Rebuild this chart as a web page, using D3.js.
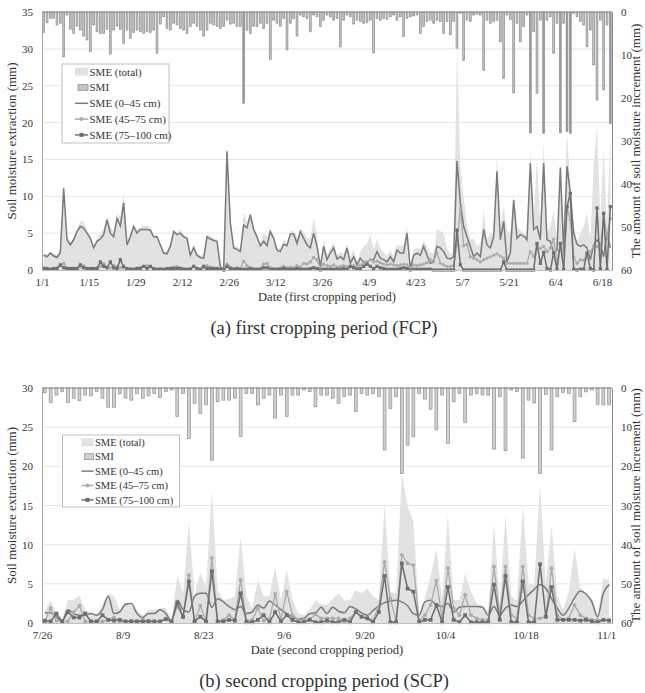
<!DOCTYPE html>
<html>
<head>
<meta charset="utf-8">
<script src="https://cdn.jsdelivr.net/npm/d3@7"></script>
<style>
  body { margin: 0; background: #fff; }
  text { font-family: "Liberation Serif", "DejaVu Serif", serif; fill: #333; }
</style>
</head>
<body>
<svg id="chart" width="645" height="693"></svg>
<script>
// ---- data, one value per day ----
// first cropping period (FCP), from 1/1
var fcpTotal = [2.3,2.1,2.5,2.2,2.1,3.0,11.5,4.6,3.8,4.4,
  5.6,6.6,6.6,5.4,4.6,3.3,4.3,5.0,5.6,7.3,
  6.0,5.1,7.6,7.2,10.5,3.8,4.8,6.1,5.5,5.8,
  6.0,6.0,5.9,4.8,4.7,3.7,2.5,2.5,3.7,5.5,
  5.1,5.5,4.8,4.5,2.3,3.5,2.4,1.9,2.2,4.8,
  4.6,4.3,4.2,0.7,0.0,16.4,6.8,3.3,3.2,2.8,
  7.8,6.4,7.8,5.8,4.7,3.6,5.0,4.6,5.6,4.6,
  3.0,2.9,4.0,3.7,5.3,5.3,4.4,5.6,5.2,4.3,
  4.3,7.0,4.8,0.7,4.1,2.1,2.9,3.8,2.0,2.4,
  2.2,3.6,1.8,2.7,1.1,2.5,3.2,3.6,4.8,2.7,
  4.2,2.9,2.4,1.9,2.7,1.9,3.4,3.2,3.4,5.9,
  0.4,2.8,3.0,2.8,4.1,3.1,2.4,2.2,5.5,5.3,
  5.0,3.0,2.1,2.4,30.2,14.0,10.0,5.9,4.1,4.3,
  3.2,3.6,8.1,4.1,5.0,5.0,15.4,5.9,8.6,5.4,
  5.0,10.4,5.9,5.4,5.0,4.6,16.4,6.6,15.5,5.9,
  17.3,5.0,5.9,8.1,4.1,14.5,5.9,18.6,11.5,6.0,
  3.9,5.0,5.9,7.7,4.1,14.0,19.5,7.0,16.4,5.9,
  18.2];
var fcpSMI = [4.8,2.5,1.5,1.5,3.0,2.6,10.4,0.7,4.0,5.0,
  3.3,4.2,5.6,6.5,9.2,3.0,4.6,5.0,5.0,4.0,
  9.8,4.2,3.3,4.0,7.3,4.2,6.1,4.8,4.2,4.6,
  5.0,4.6,4.8,4.2,9.6,2.8,1.1,3.8,4.2,2.6,
  3.0,3.8,4.2,5.0,3.4,2.6,3.3,4.2,5.6,4.2,
  2.6,3.0,3.4,3.8,3.3,1.9,2.8,2.6,3.4,3.4,
  21.2,4.2,5.0,3.3,3.4,2.6,3.8,2.6,11.0,1.9,
  2.6,3.3,1.5,8.8,2.6,1.5,5.6,0.7,1.1,1.5,
  4.6,0.7,1.1,3.4,1.9,0.7,1.1,1.9,1.5,8.1,
  1.9,0.7,1.1,2.8,1.9,2.2,2.6,2.5,1.9,9.5,
  1.5,1.9,1.5,1.7,1.1,0.7,1.9,1.1,5.7,1.5,
  1.1,0.9,0.7,5.0,3.4,2.2,1.9,2.6,1.9,2.2,
  5.0,2.2,5.3,2.2,8.4,0.3,11.2,1.9,2.2,0.7,
  0.5,0.7,13.6,1.9,2.6,2.2,1.9,6.9,15.4,0.7,
  1.7,18.8,2.6,6.9,3.4,0.7,28.1,4.6,18.9,1.9,
  28.2,1.9,1.1,9.6,2.6,28.1,2.6,27.8,28.2,0.3,
  1.1,2.2,3.0,8.1,4.2,12.3,20.5,1.9,18.1,3.0,
  25.9];
var fcpTop = [2.0,1.8,2.3,1.9,1.7,2.3,11.1,4.1,3.4,4.1,
  5.2,5.9,5.7,5.0,4.3,3.0,3.9,4.2,4.8,6.8,
  5.0,4.5,7.0,6.0,9.1,3.4,4.5,5.9,5.0,5.5,
  5.5,5.5,5.4,4.5,4.5,3.4,2.3,2.2,3.2,5.2,
  4.8,5.0,4.5,4.3,2.0,3.0,2.0,1.7,1.6,4.5,
  4.2,4.0,3.9,0.5,0.0,16.1,6.4,3.0,2.8,2.5,
  6.1,5.7,7.5,5.5,4.5,3.3,3.9,3.3,5.2,4.3,
  2.7,2.5,3.5,3.3,4.9,4.9,3.6,5.2,4.3,3.4,
  3.0,5.0,3.2,0.5,3.2,1.4,2.3,3.0,1.5,1.8,
  1.4,3.0,0.9,1.8,0.7,1.6,1.1,1.1,1.4,1.4,
  2.5,1.6,1.4,1.1,1.8,1.1,2.7,2.3,2.3,5.0,
  0.2,2.0,2.3,2.0,3.2,2.0,0.9,1.1,3.2,3.0,
  2.5,1.6,1.5,1.8,14.8,9.1,5.9,4.5,3.2,1.8,
  2.3,1.8,5.5,3.4,3.0,4.5,13.4,4.1,6.6,1.1,
  2.3,9.5,4.3,4.8,4.6,4.1,14.5,5.5,5.9,4.1,
  14.5,4.1,3.9,2.3,2.7,13.9,2.5,14.1,10.5,5.0,
  3.5,3.2,3.4,3.0,1.4,3.4,4.1,3.4,1.8,5.0,
  3.0];
var fcpMid = [0.3,0.2,0.1,0.2,0.3,0.6,0.9,0.3,0.2,0.1,
  0.2,0.4,0.6,0.2,0.1,0.2,0.3,0.5,0.9,0.4,
  0.3,0.6,0.5,0.3,0.6,0.1,0.2,0.1,0.3,0.4,
  0.5,0.6,0.4,0.2,0.1,0.2,0.1,0.2,0.3,0.4,
  0.5,0.3,0.2,0.1,0.2,0.5,0.2,0.1,0.3,0.6,
  0.4,0.3,0.2,0.1,0.0,0.8,0.4,0.2,0.3,0.2,
  1.2,0.6,0.3,0.2,0.1,0.2,0.8,0.9,0.3,0.2,
  0.2,0.3,0.5,0.3,0.4,0.3,0.6,0.4,0.9,0.8,
  1.1,1.7,1.4,0.2,0.8,0.6,0.5,0.7,0.4,0.5,
  0.6,0.5,0.4,0.6,0.3,0.7,0.9,1.1,1.4,1.1,
  1.2,1.0,0.8,0.7,0.8,0.7,0.6,0.7,0.8,0.7,
  0.2,0.7,0.6,0.7,0.8,1.0,1.4,1.2,2.3,0.9,
  0.7,0.5,0.5,0.6,3.5,8.4,3.3,3.5,1.8,1.6,
  1.4,1.1,1.4,1.6,1.8,2.0,2.2,1.9,1.6,0.9,
  0.9,0.9,0.9,0.9,0.9,0.9,2.5,1.8,3.4,2.9,
  3.2,2.5,3.0,4.2,0.9,3.6,2.0,8.4,6.8,1.8,
  0.9,1.4,1.3,2.3,2.5,3.2,3.2,2.8,7.5,4.5,
  7.0];
var fcpDeep = [0.2,0.2,0.1,0.2,0.2,0.7,0.3,0.2,0.2,0.2,
  0.2,0.7,0.3,0.2,0.2,0.2,0.2,1.1,0.5,0.3,
  1.1,0.3,0.2,1.4,0.4,0.2,0.1,0.1,0.2,0.2,
  0.5,0.2,0.5,0.2,0.1,0.1,0.1,0.2,0.2,0.2,
  0.2,0.2,0.1,0.1,0.1,0.5,0.2,0.1,0.5,0.2,
  0.2,0.2,0.2,0.1,0.0,0.5,0.2,0.1,0.2,0.1,
  0.1,0.1,0.2,0.1,0.1,0.1,0.3,0.3,0.1,0.1,
  0.1,0.1,0.2,0.1,0.1,0.1,0.2,0.1,0.1,0.1,
  0.2,0.3,0.2,0.0,0.1,0.1,0.1,0.1,0.1,0.1,
  0.2,0.1,0.5,0.3,0.1,0.2,0.5,0.8,0.5,0.2,
  0.5,0.3,0.2,0.1,0.1,0.1,0.1,0.2,0.3,0.2,
  0.0,0.1,0.1,0.1,0.1,0.1,0.1,0.0,0.0,0.0,
  0.0,0.0,0.0,0.0,5.4,0.7,0.0,0.0,0.0,0.0,
  0.0,0.0,0.0,0.0,0.0,0.0,0.0,0.0,1.1,0.0,
  0.0,0.0,0.0,0.0,0.0,0.0,0.0,0.0,3.6,0.9,
  2.4,0.2,0.0,2.3,0.1,3.6,0.1,8.6,10.4,0.1,
  0.0,0.1,0.1,2.3,0.2,0.0,8.4,0.2,7.7,0.1,
  8.6];
var fcpTicks = ["1/1","1/15","1/29","2/12","2/26","3/12","3/26","4/9","4/23","5/7","5/21","6/4","6/18"];

// second cropping period (SCP), from 7/26
var scpTotal = [1.5,2.9,1.2,0.3,2.9,3.0,3.5,1.7,1.2,1.0,
  2.4,3.8,3.4,1.7,2.7,2.1,1.7,1.0,1.7,1.7,
  1.9,1.9,0.3,6.1,3.8,12.9,3.6,6.4,4.6,16.9,
  4.2,2.9,3.1,3.4,11.0,3.4,1.9,5.5,3.4,3.4,
  7.2,2.9,6.8,2.9,1.2,1.0,1.7,2.9,2.4,2.3,
  3.1,3.8,2.9,2.9,4.2,3.8,4.4,3.4,3.0,15.1,
  4.0,3.8,19.0,14.8,13.1,1.2,3.2,6.0,9.5,3.0,
  13.8,3.0,2.9,6.3,4.0,2.5,2.2,1.5,12.7,2.5,
  13.8,3.4,2.8,15.1,5.0,5.0,17.7,5.0,12.5,3.4,
  1.7,4.0,9.5,4.5,3.6,3.2,1.0,5.7,5.5];
var scpSMI = [1.2,3.7,1.8,0.9,3.7,2.6,3.2,1.8,2.0,0.9,
  2.6,4.9,4.9,1.5,2.6,3.1,1.4,2.6,2.0,1.4,
  2.4,0.9,0.5,7.3,1.4,12.9,3.9,6.5,4.3,18.4,
  3.5,3.1,3.1,2.6,12.4,1.4,1.4,4.3,2.6,1.8,
  7.7,1.8,7.3,1.8,1.8,0.5,0.9,4.8,1.8,1.8,
  2.6,3.9,2.2,1.8,6.0,1.4,1.8,1.4,2.2,15.8,
  5.2,2.2,21.8,14.6,12.4,1.4,2.8,5.4,10.7,1.8,
  14.2,3.5,1.4,8.8,1.8,1.4,1.8,1.8,15.6,2.2,
  16.0,0.5,0.9,17.9,3.1,3.8,21.8,1.6,15.8,2.2,
  1.1,1.4,8.6,2.2,1.0,0.5,4.2,4.3,4.3];
var scpTop = [1.3,1.3,0.8,0.2,1.7,1.2,1.0,1.0,1.2,1.0,
  1.7,3.4,1.2,1.4,2.4,2.5,1.2,0.7,1.2,1.2,
  1.7,1.2,0.2,2.9,1.7,1.4,3.4,3.8,3.8,2.0,
  3.1,2.7,2.1,1.7,2.1,1.2,1.4,2.3,1.9,2.8,
  2.3,1.7,1.2,0.8,0.5,0.6,1.2,1.3,2.0,1.2,
  2.0,1.5,1.3,2.1,1.8,1.3,1.0,1.6,2.2,2.6,
  2.8,2.9,2.7,2.2,1.2,1.0,2.7,2.9,2.3,2.1,
  2.5,1.4,2.0,2.1,2.1,2.1,2.0,1.0,2.1,1.0,
  1.9,2.3,2.1,2.8,3.6,4.3,4.9,4.4,3.1,1.9,
  1.0,1.9,3.2,4.1,3.7,2.7,0.8,3.8,4.9];
var scpMid = [0.2,1.9,0.3,0.2,0.2,1.4,2.2,0.2,0.2,0.2,
  0.2,0.4,0.7,0.2,0.2,0.3,0.2,0.4,0.3,0.2,
  0.2,0.5,0.2,2.1,0.8,6.1,0.2,2.2,0.2,8.3,
  0.2,0.4,1.0,0.4,5.5,0.3,0.4,1.9,0.3,0.5,
  3.7,0.4,4.0,1.0,0.4,0.4,0.5,1.1,0.6,0.6,
  0.6,0.6,0.2,0.6,1.4,0.8,0.6,0.4,2.1,7.8,
  3.1,0.3,8.7,7.6,7.4,0.3,1.0,2.3,5.4,0.6,
  7.0,1.9,1.0,3.6,1.0,0.6,0.4,0.4,7.2,1.0,
  7.2,1.0,0.6,7.2,1.0,0.6,0.6,0.8,7.0,1.0,
  0.4,0.6,2.3,1.0,0.6,0.4,0.4,0.4,0.4];
var scpDeep = [0.3,0.2,1.2,0.2,1.4,0.7,0.7,1.2,0.2,0.2,
  1.0,0.4,0.3,0.4,0.2,0.2,0.2,0.2,0.2,0.2,
  0.2,0.5,0.2,2.6,0.8,5.3,0.2,0.8,0.2,6.6,
  0.2,0.2,0.4,0.3,3.8,0.1,0.1,0.4,1.0,0.1,
  1.4,0.2,1.0,0.4,0.1,0.1,0.4,0.1,0.1,0.3,
  0.1,0.1,0.4,0.1,1.4,0.8,0.6,0.1,1.4,6.0,
  0.1,0.1,7.6,4.4,4.0,0.1,0.4,0.4,2.3,0.1,
  4.6,0.4,0.1,1.0,0.1,0.1,0.1,0.1,4.9,0.4,
  6.0,0.1,0.1,5.3,0.1,0.1,7.5,0.8,4.6,0.4,
  0.4,0.4,0.4,0.3,0.4,0.2,0.1,0.4,0.3];
var scpTicks = ["7/26","8/9","8/23","9/6","9/20","10/4","10/18","11/1"];

var legendNames = ["SME (total)", "SMI", "SME (0\u201345 cm)", "SME (45\u201375 cm)", "SME (75\u2013100 cm)"];

var left = 42, right = 612;
var svg = d3.select("#chart");
var parseDate = d3.timeParse("%Y/%m/%d");

// draws one panel (area + bars + three lines + both axes + legend)
function drawPanel(p) {
  var g = svg.append("g");
  var start = parseDate(p.year + "/" + p.ticks[0]);
  var x = d3.scaleTime()
    .domain([start, d3.timeDay.offset(start, p.total.length)])
    .range([left, right]);
  var band = x(d3.timeDay.offset(start, 1)) - x(start);
  function day(i) { return x(d3.timeHour.offset(d3.timeDay.offset(start, i), 12)); }
  var y = d3.scaleLinear().domain([0, p.yMax]).range([p.bottom, p.top]);
  var y2 = d3.scaleLinear().domain([0, 60]).range([p.top, p.bottom]);

  // gridlines
  g.append("g").selectAll("line")
    .data(y.ticks(p.yMax / 5).slice(1))
    .enter().append("line")
    .attr("x1", left).attr("x2", right)
    .attr("y1", function(d) { return y(d); }).attr("y2", function(d) { return y(d); })
    .style("stroke", "#e6e6e6");

  // SME total as area
  g.append("path").datum(p.total)
    .attr("d", d3.area()
      .x(function(d, i) { return day(i); })
      .y0(p.bottom)
      .y1(function(d) { return y(d); }))
    .style("fill", "#e2e2e2");

  // SMI bars hanging from the top (secondary axis, reversed)
  var bw = band * p.barFrac;
  g.append("g").selectAll("rect")
    .data(p.smi)
    .enter().append("rect")
    .attr("x", function(d, i) { return day(i) - bw / 2; })
    .attr("y", p.top)
    .attr("width", bw)
    .attr("height", function(d) { return y2(d) - p.top; })
    .style("fill", function(d) { return d > p.darkAbove ? "#9e9e9e" : p.barFill; })
    .style("stroke", "#8e8e8e")
    .style("stroke-width", 0.7);

  // SME by layer
  var line = d3.line().x(function(d, i) { return day(i); }).y(function(d) { return y(d); });
  g.append("path").datum(p.s1)
    .attr("d", line.curve(p.curve))
    .style("fill", "none").style("stroke", "#7a7a7a").style("stroke-width", 1.5);
  line.curve(d3.curveLinear);
  g.append("path").datum(p.s2)
    .attr("d", line)
    .style("fill", "none").style("stroke", "#ababab").style("stroke-width", 1.3);
  g.append("g").selectAll("circle")
    .data(p.s2).enter().append("circle")
    .attr("cx", function(d, i) { return day(i); })
    .attr("cy", function(d) { return y(d); })
    .attr("r", p.mk / 2)
    .style("fill", "#ababab");
  g.append("path").datum(p.s3)
    .attr("d", line)
    .style("fill", "none").style("stroke", "#6e6e6e").style("stroke-width", 1.5);
  g.append("g").selectAll("rect")
    .data(p.s3).enter().append("rect")
    .attr("x", function(d, i) { return day(i) - p.mk / 2; })
    .attr("y", function(d) { return y(d) - p.mk / 2; })
    .attr("width", p.mk).attr("height", p.mk)
    .style("fill", "#6e6e6e");

  // axes
  var ax = g.append("g").attr("transform", "translate(" + left + ",0)")
    .call(d3.axisLeft(y).ticks(p.yMax / 5).tickSize(0).tickPadding(9));
  ax.select(".domain").style("stroke", "#a6a6a6");
  ax.style("font-size", "11px");

  var ar = g.append("g").attr("transform", "translate(" + right + ",0)")
    .call(d3.axisRight(y2).ticks(6).tickSize(0).tickPadding(9));
  ar.select(".domain").style("stroke", "#8c8c8c");
  ar.style("font-size", "11px");

  var tickDates = p.ticks.map(function(t) { return parseDate(p.year + "/" + t); });
  var axb = g.append("g").attr("transform", "translate(0," + p.bottom + ")")
    .call(d3.axisBottom(x).tickValues(tickDates)
      .tickFormat(function(d, i) { return p.ticks[i]; })
      .tickSize(0).tickPadding(8));
  axb.select(".domain").style("stroke", "#bfbfbf");
  axb.style("font-size", "11px");

  g.append("line")
    .attr("x1", left).attr("x2", right).attr("y1", p.top).attr("y2", p.top)
    .style("stroke", "#8c8c8c");

  // titles
  var midY = (p.top + p.bottom) / 2;
  g.append("text")
    .attr("transform", "translate(16," + midY + ") rotate(-90)")
    .style("text-anchor", "middle").style("font-size", "13px")
    .text("Soil moisture extraction (mm)");
  g.append("text")
    .attr("transform", "translate(640," + midY + ") rotate(-90)")
    .style("text-anchor", "middle").style("font-size", "13px")
    .text("The amount of soil moisture increment (mm)");
  g.append("text")
    .attr("x", (left + right) / 2).attr("y", p.bottom + 31)
    .style("text-anchor", "middle").style("font-size", "12.5px")
    .text(p.xTitle);
  g.append("text")
    .attr("x", 324).attr("y", p.bottom + 64)
    .style("text-anchor", "middle").style("font-size", "18.5px")
    .text(p.caption);

  // legend
  var L = p.legend;
  var lg = g.append("g").attr("transform", "translate(" + L.x + "," + L.y + ")");
  lg.append("rect").attr("width", L.w).attr("height", L.h)
    .style("fill", "#fff").style("stroke", "#bfbfbf");
  var item = lg.selectAll(".item").data(legendNames).enter().append("g")
    .attr("transform", function(d, i) { return "translate(0," + (L.pad + i * L.step) + ")"; });
  item.each(function(d, i) {
    var it = d3.select(this);
    if (i == 0) {
      it.append("rect").attr("x", L.sx).attr("y", -4).attr("width", L.sw).attr("height", 8).style("fill", "#e2e2e2");
    } else if (i == 1) {
      it.append("rect").attr("x", L.sx + 3).attr("y", -3).attr("width", L.sw - 3).attr("height", 6)
        .style("fill", p.barFill).style("stroke", "#8e8e8e").style("stroke-width", 0.7);
    } else {
      var c = ["#7a7a7a", "#ababab", "#6e6e6e"][i - 2];
      it.append("line").attr("x1", L.sx).attr("x2", L.sx + L.sw)
        .style("stroke", c).style("stroke-width", 1.5);
      if (i == 3) it.append("circle").attr("cx", L.sx + L.sw / 2).attr("r", 2).style("fill", c);
      if (i == 4) it.append("rect").attr("x", L.sx + L.sw / 2 - 2).attr("y", -2)
        .attr("width", 4).attr("height", 4).style("fill", c);
    }
    it.append("text").attr("x", L.sx + L.sw + 1.5).attr("dy", "0.35em")
      .style("font-size", L.font).text(d);
  });
}

drawPanel({
  year: 2017, ticks: fcpTicks,
  total: fcpTotal, smi: fcpSMI, s1: fcpTop, s2: fcpMid, s3: fcpDeep,
  top: 12, bottom: 270, yMax: 35,
  barFrac: 0.55, barFill: "#c4c4c4", darkAbove: 21, mk: 3.2, curve: d3.curveLinear,
  xTitle: "Date (first cropping period)",
  caption: "(a) first cropping period (FCP)",
  legend: {x: 62, y: 64, w: 107, h: 79, pad: 7.7, step: 15.8, sx: 13, sw: 13, font: "11px"}
});

drawPanel({
  year: 2017, ticks: scpTicks,
  total: scpTotal, smi: scpSMI, s1: scpTop, s2: scpMid, s3: scpDeep,
  top: 388, bottom: 623, yMax: 30,
  barFrac: 0.5, barFill: "#d0d0d0", darkAbove: Infinity, mk: 3.8, curve: d3.curveMonotoneX,
  xTitle: "Date (second cropping period)",
  caption: "(b) second cropping period (SCP)",
  legend: {x: 62.5, y: 435, w: 117, h: 72, pad: 7.3, step: 14.4, sx: 19, sw: 12, font: "10.5px"}
});
</script>
</body>
</html>
